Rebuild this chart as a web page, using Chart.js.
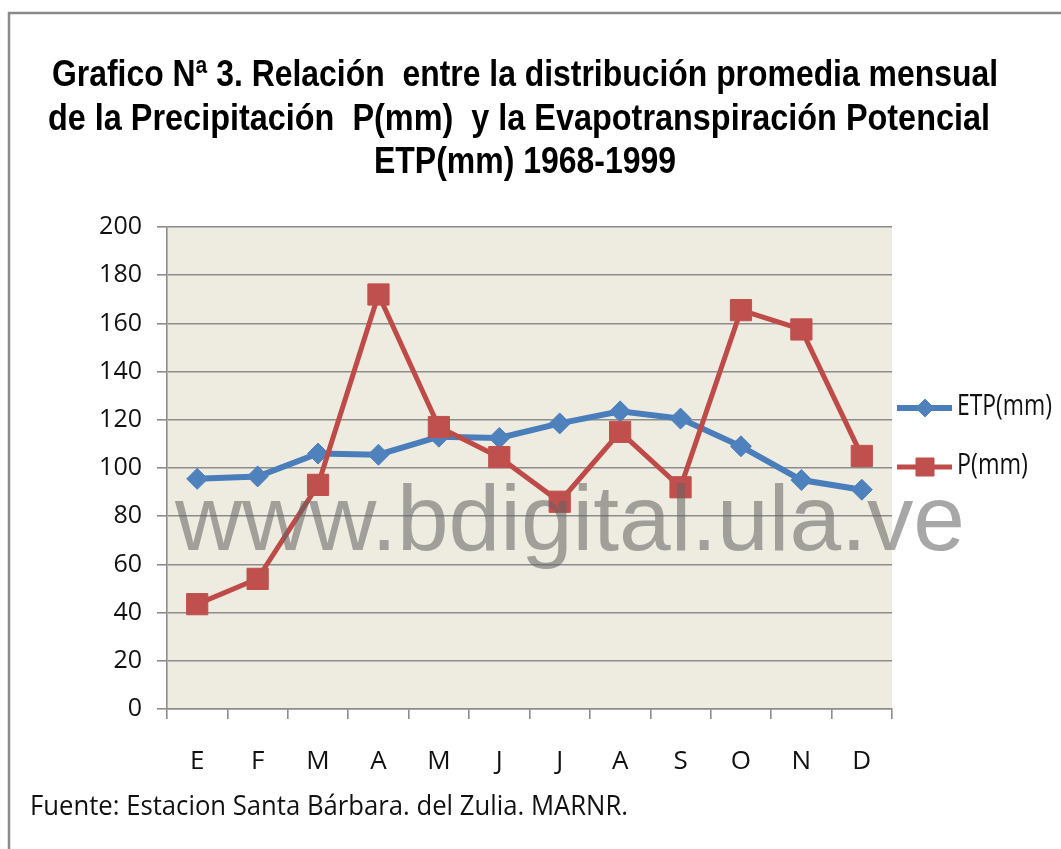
<!DOCTYPE html>
<html>
<head>
<meta charset="utf-8">
<script src="https://cdn.jsdelivr.net/npm/chart.js@4.4.0/dist/chart.umd.min.js"></script>
<style>
  html, body { margin: 0; padding: 0; background: #fff; }
  #wrap { position: relative; width: 1061px; height: 849px; }
</style>
</head>
<body>
<div id="wrap"><canvas id="myChart"></canvas></div>
<script>
/* DATOS */
var meses = ['E', 'F', 'M', 'A', 'M', 'J', 'J', 'A', 'S', 'O', 'N', 'D'];
var etp = [95.5, 96.5, 106, 105.5, 113, 112.5, 118.5, 123.5, 120.5, 109, 95, 91];
var precip = [43.5, 54, 93, 172, 117, 104.5, 86, 115, 92, 165.5, 157.5, 105];
var yTicks = [0, 20, 40, 60, 80, 100, 120, 140, 160, 180, 200];
var serieNombres = ['ETP(mm)', 'P(mm)'];
var titulo = [
    'Grafico Nª 3. Relación  entre la distribución promedia mensual',
    'de la Precipitación  P(mm)  y la Evapotranspiración Potencial',
    'ETP(mm) 1968-1999'
];
var fuente = 'Fuente: Estacion Santa Bárbara. del Zulia. MARNR.';
var marcaAgua = 'www.bdigital.ula.ve';
/* DATOS */

var gris = '#8c8c8c';

// texto comprimido a lo ancho (como en la imagen original)
function textoAncho(ctx, txt, x, y, font, ancho, align) {
    ctx.save();
    ctx.font = font;
    var w = ctx.measureText(txt).width;
    ctx.translate(x, y);
    ctx.scale(ancho / w, 1);
    ctx.textAlign = align || 'left';
    ctx.textBaseline = 'alphabetic';
    ctx.fillText(txt, 0, 0);
    ctx.restore();
}

var fondo = {
    id: 'fondo',
    beforeDraw: function(chart) {
        var a = chart.chartArea, ctx = chart.ctx;
        ctx.save();
        ctx.fillStyle = '#EEECE1';
        ctx.fillRect(a.left, a.top, a.right - a.left, a.bottom - a.top);
        ctx.restore();
    },
    afterDraw: function(chart) {
        var ctx = chart.ctx;
        // marco
        ctx.save();
        ctx.strokeStyle = '#8a8a8a';
        ctx.lineWidth = 2.5;
        ctx.beginPath();
        ctx.moveTo(9, 849); ctx.lineTo(9, 13); ctx.lineTo(1061, 13);
        ctx.stroke();
        ctx.restore();

        // titulo
        ctx.fillStyle = '#000';
        var tx = [525, 519, 525], ty = [86, 129.5, 173], tw = [946, 942, 302];
        titulo.forEach(function(t, i) {
            textoAncho(ctx, t, tx[i], ty[i], 'bold 37px "Liberation Sans", Arial', tw[i], 'center');
        });

        // fuente
        ctx.fillStyle = '#111';
        textoAncho(ctx, fuente, 30, 815, '28px "Open Sans"', 598, 'left');

        // leyenda
        var ly = [408, 467], lw = [95, 71], lb = [415, 474];
        chart.data.datasets.forEach(function(ds, i) {
            ctx.save();
            ctx.strokeStyle = ds.borderColor;
            ctx.lineWidth = ds.borderWidth;
            ctx.beginPath();
            ctx.moveTo(897, ly[i]); ctx.lineTo(952, ly[i]);
            ctx.stroke();
            ctx.fillStyle = ds.pointBackgroundColor;
            ctx.strokeStyle = ds.pointBackgroundColor;
            ctx.lineWidth = 1;
            Chart.helpers.drawPoint(ctx, { pointStyle: ds.pointStyle, radius: ds.pointRadius * 0.85, borderWidth: 1 }, 925, ly[i]);
            ctx.restore();
            ctx.fillStyle = '#111';
            textoAncho(ctx, ds.label, 957, lb[i], '30px "Open Sans"', lw[i], 'left');
        });

        // marca de agua
        ctx.fillStyle = 'rgba(100,100,100,0.565)';
        textoAncho(ctx, marcaAgua, 175, 550, '92px "Liberation Sans", Arial', 790, 'left');
    }
};

var config = {
    type: 'line',
    data: {
        labels: meses,
        datasets: [
            {
                label: serieNombres[0], data: etp, order: 1,
                borderColor: '#4A7EBB', borderWidth: 6, tension: 0,
                pointStyle: 'rectRot', pointRadius: 10.5,
                pointBackgroundColor: '#4F81BD', pointBorderColor: '#4F81BD', pointBorderWidth: 1
            },
            {
                label: serieNombres[1], data: precip, order: 0,
                borderColor: '#BE4B48', borderWidth: 5, tension: 0,
                pointStyle: 'rect', pointRadius: 15,
                pointBackgroundColor: '#C0504D', pointBorderColor: '#C0504D', pointBorderWidth: 1
            }
        ]
    },
    options: {
        responsive: true,
        maintainAspectRatio: false,
        animation: false,
        devicePixelRatio: 1,
        layout: { padding: { top: 227, right: 169, bottom: 0, left: 0 } },
        plugins: {
            legend: { display: false },
            title: { display: false },
            tooltip: { enabled: false }
        },
        scales: {
            x: {
                offset: true,
                grid: { offset: true, drawOnChartArea: false, tickLength: 10, color: gris, lineWidth: 1.6 },
                border: { display: true, color: gris, width: 1.6 },
                ticks: { font: { family: 'Open Sans', size: 26 }, color: '#111', padding: 27, maxRotation: 0, autoSkip: false },
                afterFit: function(s) { s.height = 140; }
            },
            y: {
                min: 0, max: 200,
                afterBuildTicks: function(s) { s.ticks = yTicks.map(function(v) { return { value: v }; }); },
                grid: { color: gris, lineWidth: 1.6, tickLength: 10 },
                border: { color: gris, width: 1.6 },
                ticks: { font: { family: 'Open Sans', size: 25 }, color: '#111', padding: 15 },
                afterFit: function(s) { s.width = 167; }
            }
        }
    },
    plugins: [fondo]
};

window.onload = function() {
    var ctx = document.getElementById('myChart').getContext('2d');
    window.myChart = new Chart(ctx, config);
};
</script>
</body>
</html>
